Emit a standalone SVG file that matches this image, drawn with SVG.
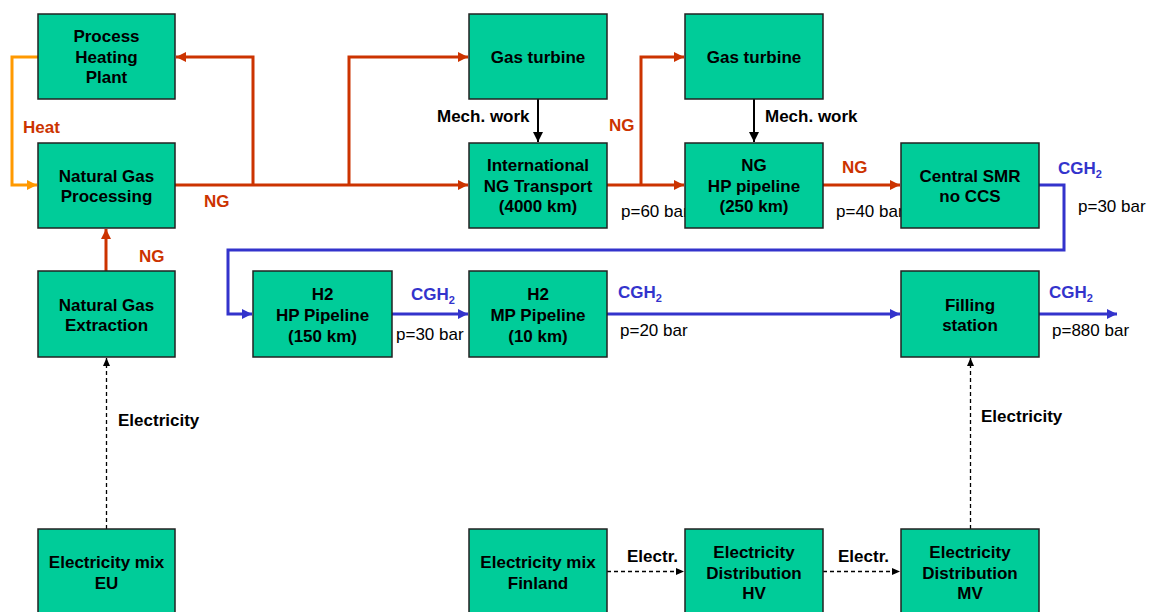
<svg xmlns="http://www.w3.org/2000/svg" width="1151" height="612" viewBox="0 0 1151 612">
<defs>
<style>
.box{fill:#00CC99;stroke:#222;stroke-width:1.5}
.t{font-family:"Liberation Sans",Arial,sans-serif;font-size:17px;font-weight:bold;fill:#000;text-anchor:middle}
.lb{font-family:"Liberation Sans",Arial,sans-serif;font-size:17px;font-weight:bold}
.p{font-family:"Liberation Sans",Arial,sans-serif;font-size:17px;fill:#000}
.ng{fill:#CC3300}
.h2{fill:#3333CC}
.sub{font-size:11px}
.red{fill:none;stroke:#CC3300;stroke-width:3}
.blue{fill:none;stroke:#3333CC;stroke-width:3}
.orange{fill:none;stroke:#FF9900;stroke-width:3}
.black{fill:none;stroke:#000;stroke-width:2}
.dash{fill:none;stroke:#000;stroke-width:1.3;stroke-dasharray:4 3}
</style>
<marker id="aR" markerUnits="userSpaceOnUse" markerWidth="10" markerHeight="10" refX="10" refY="5" orient="auto"><path d="M0,0 L10,5 L0,10 z" fill="#CC3300"/></marker>
<marker id="aB" markerUnits="userSpaceOnUse" markerWidth="10" markerHeight="10" refX="10" refY="5" orient="auto"><path d="M0,0 L10,5 L0,10 z" fill="#3333CC"/></marker>
<marker id="aO" markerUnits="userSpaceOnUse" markerWidth="10" markerHeight="10" refX="10" refY="5" orient="auto"><path d="M0,0 L10,5 L0,10 z" fill="#FF9900"/></marker>
<marker id="aK" markerUnits="userSpaceOnUse" markerWidth="10" markerHeight="10" refX="10" refY="5" orient="auto"><path d="M0,0 L10,5 L0,10 z" fill="#000"/></marker>
<marker id="aD" markerUnits="userSpaceOnUse" markerWidth="8" markerHeight="7" refX="8" refY="3.5" orient="auto"><path d="M0,0 L8,3.5 L0,7 z" fill="#000"/></marker>
</defs>
<rect width="1151" height="612" fill="#fff"/>
<g id="connectors">
<path class="orange" d="M38,57 H12 V185 H37" marker-end="url(#aO)"/>
<path class="red" d="M175,185 H468" marker-end="url(#aR)"/>
<path class="red" d="M253,185 V57 H176" marker-end="url(#aR)"/>
<path class="red" d="M349,185 V57 H468" marker-end="url(#aR)"/>
<path class="red" d="M106,271 V229" marker-end="url(#aR)"/>
<path class="red" d="M607,185 H684" marker-end="url(#aR)"/>
<path class="red" d="M641,185 V57 H684" marker-end="url(#aR)"/>
<path class="red" d="M823,185 H900" marker-end="url(#aR)"/>
<path class="black" d="M538,99 V142" marker-end="url(#aK)"/>
<path class="black" d="M754,99 V142" marker-end="url(#aK)"/>
<path class="blue" d="M1039,185 H1064 V250 H228 V314 H252" marker-end="url(#aB)"/>
<path class="blue" d="M392,314 H468" marker-end="url(#aB)"/>
<path class="blue" d="M607,314 H900" marker-end="url(#aB)"/>
<path class="blue" d="M1039,314 H1117" marker-end="url(#aB)"/>
<path class="dash" d="M106.5,529 V358" marker-end="url(#aD)"/>
<path class="dash" d="M970.5,529 V358" marker-end="url(#aD)"/>
<path class="dash" d="M607,571.5 H684" marker-end="url(#aD)"/>
<path class="dash" d="M823,571.5 H900" marker-end="url(#aD)"/>
<text class="lb ng" x="23" y="133">Heat</text>
<text class="lb ng" x="204" y="207">NG</text>
<text class="lb ng" x="139" y="262">NG</text>
<text class="lb ng" x="609" y="131">NG</text>
<text class="lb ng" x="842" y="173">NG</text>
<text class="lb" x="437" y="122">Mech. work</text>
<text class="lb" x="765" y="122">Mech. work</text>
<text class="p" x="621" y="217">p=60 bar</text>
<text class="p" x="836" y="217">p=40 bar</text>
<text class="lb h2" x="1058" y="174">CGH<tspan class="sub" dy="4">2</tspan></text>
<text class="p" x="1078" y="212">p=30 bar</text>
<text class="lb h2" x="411" y="300">CGH<tspan class="sub" dy="4">2</tspan></text>
<text class="p" x="396" y="340">p=30 bar</text>
<text class="lb h2" x="618" y="298">CGH<tspan class="sub" dy="4">2</tspan></text>
<text class="p" x="620" y="336">p=20 bar</text>
<text class="lb h2" x="1049" y="298">CGH<tspan class="sub" dy="4">2</tspan></text>
<text class="p" x="1052" y="336">p=880 bar</text>
<text class="lb" x="118" y="426">Electricity</text>
<text class="lb" x="981" y="422">Electricity</text>
<text class="lb" x="627" y="562">Electr.</text>
<text class="lb" x="838" y="562">Electr.</text>
</g>
<g id="process-heating-plant"><rect class="box" x="38" y="14" width="137" height="85"/><text class="t" x="106.5" y="42">Process</text><text class="t" x="106.5" y="63">Heating</text><text class="t" x="106.5" y="83">Plant</text></g>
<g id="ng-processing"><rect class="box" x="38" y="143" width="137" height="85"/><text class="t" x="106.5" y="182">Natural Gas</text><text class="t" x="106.5" y="202">Processing</text></g>
<g id="ng-extraction"><rect class="box" x="38" y="271" width="137" height="86"/><text class="t" x="106.5" y="311">Natural Gas</text><text class="t" x="106.5" y="331">Extraction</text></g>
<g id="elec-mix-eu"><rect class="box" x="38" y="529" width="137" height="86"/><text class="t" x="106.5" y="568">Electricity mix</text><text class="t" x="106.5" y="589">EU</text></g>
<g id="gas-turbine-1"><rect class="box" x="469" y="14" width="138" height="85"/><text class="t" x="538" y="63">Gas turbine</text></g>
<g id="intl-ng-transport"><rect class="box" x="469" y="143" width="138" height="85"/><text class="t" x="538" y="171">International</text><text class="t" x="538" y="192">NG Transport</text><text class="t" x="538" y="212">(4000 km)</text></g>
<g id="gas-turbine-2"><rect class="box" x="685" y="14" width="138" height="85"/><text class="t" x="754" y="63">Gas turbine</text></g>
<g id="ng-hp-pipeline"><rect class="box" x="685" y="143" width="138" height="85"/><text class="t" x="754" y="171">NG</text><text class="t" x="754" y="192">HP pipeline</text><text class="t" x="754" y="212">(250 km)</text></g>
<g id="central-smr"><rect class="box" x="901" y="143" width="138" height="85"/><text class="t" x="970" y="182">Central SMR</text><text class="t" x="970" y="202">no CCS</text></g>
<g id="h2-hp-pipeline"><rect class="box" x="253" y="271" width="139" height="86"/><text class="t" x="322.5" y="300">H2</text><text class="t" x="322.5" y="321">HP Pipeline</text><text class="t" x="322.5" y="342">(150 km)</text></g>
<g id="h2-mp-pipeline"><rect class="box" x="469" y="271" width="138" height="86"/><text class="t" x="538" y="300">H2</text><text class="t" x="538" y="321">MP Pipeline</text><text class="t" x="538" y="342">(10 km)</text></g>
<g id="filling-station"><rect class="box" x="901" y="271" width="138" height="86"/><text class="t" x="970" y="311">Filling</text><text class="t" x="970" y="331">station</text></g>
<g id="elec-mix-finland"><rect class="box" x="469" y="529" width="138" height="86"/><text class="t" x="538" y="568">Electricity mix</text><text class="t" x="538" y="589">Finland</text></g>
<g id="elec-dist-hv"><rect class="box" x="685" y="529" width="138" height="86"/><text class="t" x="754" y="558">Electricity</text><text class="t" x="754" y="579">Distribution</text><text class="t" x="754" y="599">HV</text></g>
<g id="elec-dist-mv"><rect class="box" x="901" y="529" width="138" height="86"/><text class="t" x="970" y="558">Electricity</text><text class="t" x="970" y="579">Distribution</text><text class="t" x="970" y="599">MV</text></g>
</svg>
